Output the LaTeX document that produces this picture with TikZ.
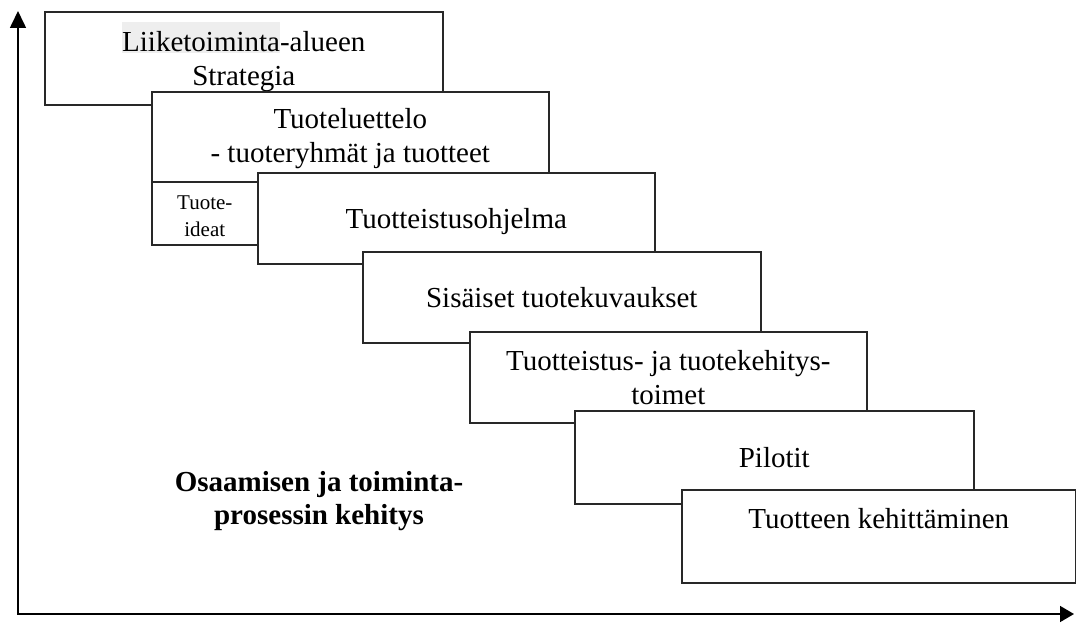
\documentclass[tikz,border=0pt]{standalone}
\usepackage{fontspec}
\setmainfont{Liberation Serif}
\usetikzlibrary{arrows.meta}
\definecolor{edge}{RGB}{40,40,40}
\definecolor{hl}{RGB}{238,238,238}
\tikzset{
  stage/.style={draw=edge, line width=1.6pt, fill=white, anchor=north west, inner sep=0pt, align=center, font=\fontsize{29}{34}\selectfont},
  single/.style={text height=20pt, text depth=0pt},
  axis/.style={draw=black, line width=1.6pt, line join=miter, {Triangle[length=17pt,width=16pt]}-{Triangle[length=14pt,width=16pt]}},
  note/.style={align=center, font=\fontsize{29}{33}\selectfont\bfseries},
}
\begin{document}
\begin{tikzpicture}[x=1pt,y=-1pt]
\useasboundingbox (0,0) rectangle (1076,626);
% axes
\coordinate (ytop) at (18,11);
\coordinate (o) at (18,614);
\coordinate (xend) at (1074,614);
\draw[axis] (ytop) -- (o) -- (xend);
% stages
\node[stage, minimum width=398pt, minimum height=93pt] (b1) at (44,11)
  {\rule{0pt}{26pt}{\setlength{\fboxsep}{0pt}\smash{\colorbox{hl}{\rule[-2pt]{0pt}{31pt}Liiketoiminta}}}-alueen\\Strategia};
\node[stage, minimum width=397pt, minimum height=90pt] (b2) at (151,91)
  {\rule{0pt}{24pt}Tuoteluettelo\\- tuoteryhmät ja tuotteet};
\node[stage, minimum width=106pt, minimum height=63pt, font=\fontsize{21}{27}\selectfont] (ideat) at (151,181)
  {\rule{0pt}{19pt}Tuote-\\ideat};
\node[stage, single, minimum width=397pt, minimum height=91pt] (b3) at (257,172)
  {Tuotteistusohjelma};
\node[stage, single, minimum width=398pt, minimum height=91pt] (b4) at (362,251)
  {Sisäiset tuotekuvaukset};
\node[stage, minimum width=397pt, minimum height=91pt] (b5) at (469,331)
  {Tuotteistus- ja tuotekehitys-\\toimet};
\node[stage, single, minimum width=399pt, minimum height=93pt] (b6) at (574,410)
  {Pilotit};
\node[stage, text height=20pt, text depth=35pt, minimum width=394pt, minimum height=93pt] (b7) at (681,489)
  {Tuotteen kehittäminen};
% label
\node[note] (dev) at (319,501) {Osaamisen ja toiminta-\\prosessin kehitys};
\end{tikzpicture}
\end{document}
